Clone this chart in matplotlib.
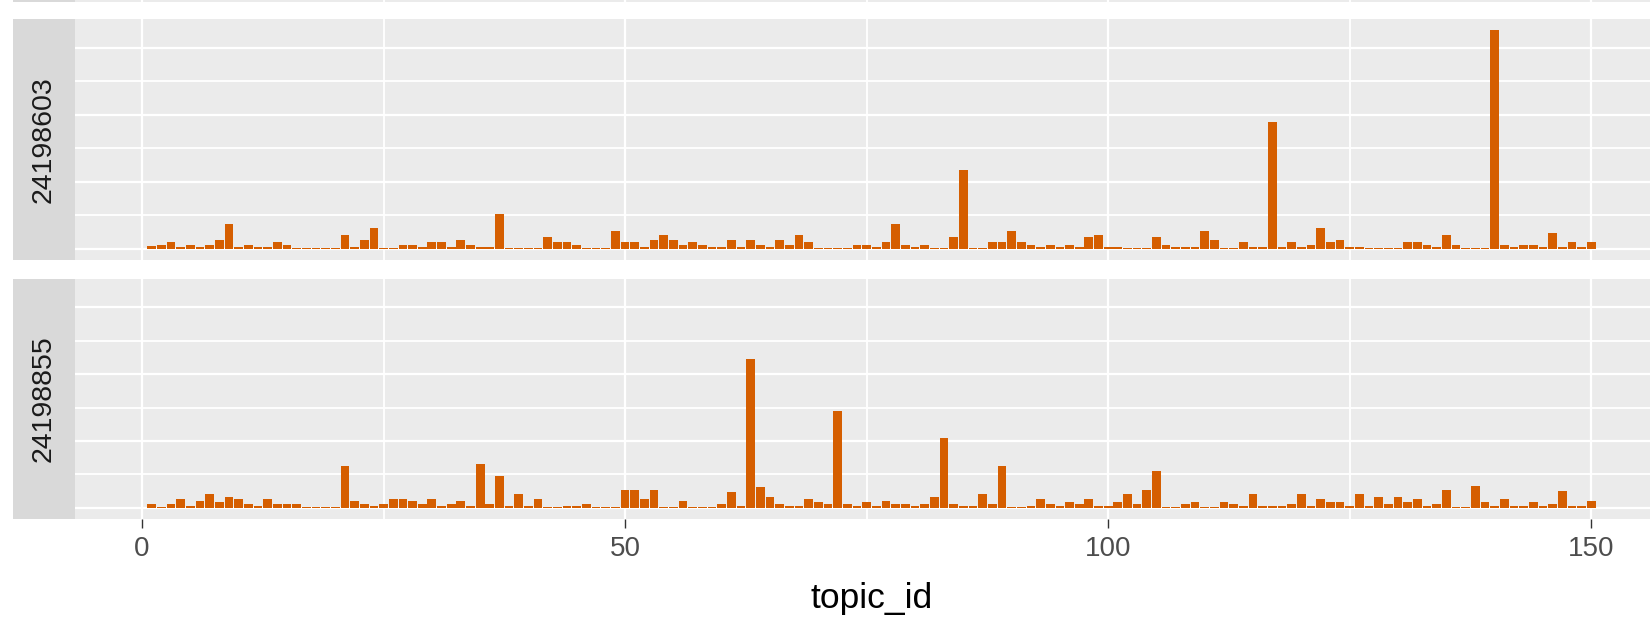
import numpy as np
import matplotlib
matplotlib.use("Agg")
import matplotlib.pyplot as plt

# topic proportions per document, topic_id 1..150
topic_id = np.arange(1, 151)

doc_ids = ["24198603", "24198855"]

gamma_24198603 = [
    0.0035, 0.006, 0.0095, 0.002, 0.006, 0.002, 0.006, 0.013, 0.036, 0.002,
    0.006, 0.002, 0.002, 0.0095, 0.006, 0.0015, 0.0015, 0.0015, 0.0015, 0.0015,
    0.020, 0.002, 0.013, 0.031, 0.0015, 0.0015, 0.006, 0.006, 0.002, 0.0095,
    0.0095, 0.002, 0.013, 0.006, 0.002, 0.002, 0.051, 0.0015, 0.0015, 0.0015,
    0.0015, 0.017, 0.0095, 0.0095, 0.006, 0.0015, 0.0015, 0.0015, 0.027, 0.0095,
    0.0095, 0.002, 0.013, 0.020, 0.013, 0.006, 0.0095, 0.006, 0.002, 0.002,
    0.013, 0.002, 0.013, 0.006, 0.002, 0.013, 0.006, 0.020, 0.0095, 0.0015,
    0.0015, 0.0015, 0.0015, 0.006, 0.006, 0.002, 0.0095, 0.036, 0.006, 0.002,
    0.006, 0.0015, 0.0015, 0.017, 0.1175, 0.0015, 0.0015, 0.0095, 0.0095, 0.027,
    0.0095, 0.006, 0.002, 0.006, 0.002, 0.006, 0.002, 0.017, 0.020, 0.002,
    0.002, 0.0015, 0.0015, 0.0015, 0.017, 0.006, 0.002, 0.002, 0.002, 0.027,
    0.013, 0.0015, 0.0015, 0.0095, 0.002, 0.002, 0.190, 0.002, 0.0095, 0.002,
    0.006, 0.031, 0.0095, 0.013, 0.002, 0.002, 0.0015, 0.0015, 0.0015, 0.0015,
    0.0095, 0.0095, 0.006, 0.002, 0.020, 0.006, 0.0015, 0.0015, 0.0015, 0.327,
    0.006, 0.002, 0.006, 0.006, 0.002, 0.024, 0.002, 0.0095, 0.002, 0.0095,
]

gamma_24198855 = [
    0.006, 0.0015, 0.006, 0.013, 0.002, 0.010, 0.021, 0.009, 0.0165, 0.013,
    0.006, 0.002, 0.013, 0.006, 0.006, 0.006, 0.0015, 0.0015, 0.0015, 0.0015,
    0.062, 0.0095, 0.006, 0.002, 0.006, 0.013, 0.013, 0.0095, 0.005, 0.013,
    0.002, 0.006, 0.0095, 0.003, 0.065, 0.006, 0.048, 0.002, 0.021, 0.002,
    0.013, 0.0015, 0.0015, 0.002, 0.002, 0.006, 0.0015, 0.0015, 0.0015, 0.027,
    0.027, 0.013, 0.027, 0.0015, 0.0015, 0.0095, 0.0015, 0.0015, 0.0015, 0.006,
    0.023, 0.002, 0.222, 0.031, 0.016, 0.006, 0.002, 0.002, 0.013, 0.009,
    0.006, 0.145, 0.006, 0.002, 0.009, 0.002, 0.0095, 0.006, 0.006, 0.002,
    0.006, 0.016, 0.104, 0.006, 0.002, 0.002, 0.021, 0.006, 0.062, 0.0015,
    0.0015, 0.002, 0.013, 0.006, 0.002, 0.009, 0.006, 0.013, 0.002, 0.002,
    0.009, 0.021, 0.006, 0.027, 0.055, 0.0015, 0.0015, 0.006, 0.009, 0.0015,
    0.0015, 0.009, 0.006, 0.002, 0.021, 0.002, 0.002, 0.002, 0.006, 0.021,
    0.002, 0.013, 0.009, 0.009, 0.002, 0.021, 0.002, 0.016, 0.006, 0.016,
    0.009, 0.013, 0.002, 0.006, 0.027, 0.0015, 0.0015, 0.033, 0.009, 0.002,
    0.013, 0.002, 0.002, 0.009, 0.002, 0.006, 0.025, 0.002, 0.002, 0.0095,
]

x_breaks = [0, 50, 100, 150]
x_minor = [25, 75, 125]
y_breaks = [0, 0.1, 0.2, 0.3]
y_minor = [0.05, 0.15, 0.25]

bar_col = "#D55E00"
panel_bg = "#EBEBEB"
strip_bg = "#D9D9D9"

plt.rcParams["font.family"] = ["Liberation Sans", "DejaVu Sans"]

W, H = 1650, 621
fig = plt.figure(figsize=(W / 100, H / 100), dpi=100)
fig.patch.set_facecolor("white")

# pixel layout (from top)
px_left, px_right = 74.9, 1668.0
strip_l = 12.6
panels_px = [(19.0, 259.5), (278.5, 518.5)]

xlim = (-6.945, 157.945)
ylim = (-0.01635, 0.34335)


def style_panel(ax):
    ax.set_facecolor(panel_bg)
    ax.set_xlim(*xlim)
    ax.set_ylim(*ylim)
    ax.set_xticks(x_breaks)
    ax.set_xticks(x_minor, minor=True)
    ax.set_yticks(y_breaks)
    ax.set_yticks(y_minor, minor=True)
    ax.grid(which="major", color="white", linewidth=1.6)
    ax.grid(which="minor", color="white", linewidth=1.3)
    ax.set_axisbelow(True)
    for s in ax.spines.values():
        s.set_visible(False)
    ax.tick_params(which="both", length=0, labelleft=False, labelbottom=False)


def add_strip(top, bot, label):
    sax = fig.add_axes([strip_l / W, (H - bot) / H, (px_left - strip_l) / W, (bot - top) / H])
    sax.set_facecolor(strip_bg)
    sax.set_xticks([])
    sax.set_yticks([])
    for s in sax.spines.values():
        s.set_visible(False)
    if label:
        sax.text(0.49, 0.5, label, rotation=90, ha="center", va="center",
                 fontsize=20.5, color="#1A1A1A", transform=sax.transAxes)


# sliver of the panel above (cropped in the original)
sl = fig.add_axes([px_left / W, (H - 1.5) / H, (px_right - px_left) / W, 0.1])
style_panel(sl)
add_strip(-60, 1.5, None)

series = [gamma_24198603, gamma_24198855]
axes = []
for (top, bot), vals, doc in zip(panels_px, series, doc_ids):
    ax = fig.add_axes([px_left / W, (H - bot) / H, (px_right - px_left) / W, (bot - top) / H])
    style_panel(ax)
    ax.bar(topic_id, vals, width=0.9, color=bar_col, linewidth=0)
    add_strip(top, bot, doc)
    axes.append(ax)

axb = axes[-1]
axb.tick_params(axis="x", which="major", length=6.8, width=1.0, color="#333333",
                labelbottom=True, labelsize=20, labelcolor="#4D4D4D", pad=6)

fig.text(871.5 / W, 13 / H, "topic_id", ha="center", va="baseline",
         fontsize=25.5, color="black")

fig.savefig("out.png", dpi=100, facecolor="white")
